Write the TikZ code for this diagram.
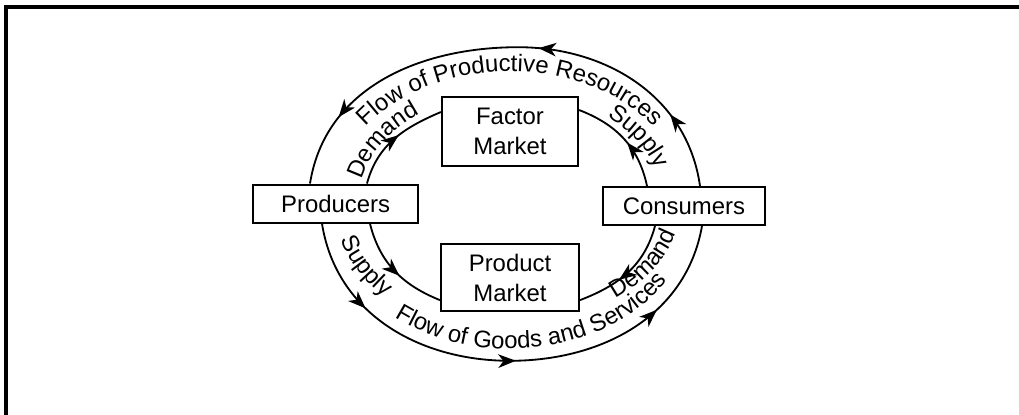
\documentclass[tikz,border=0pt]{standalone}
\usepackage{fontspec}
\setmainfont{Liberation Sans}
\usetikzlibrary{positioning,arrows.meta,decorations.markings,decorations.text}
\newcommand{\flowfont}{\fontsize{17}{21.3}\selectfont}
\tikzset{
	every node/.style = {font=\flowfont, inner sep = 3},
	box/.style = {draw, rectangle, line width=1.5pt, align=center, minimum height=0.95cm},
	flow/.style = {line width=1.3pt},
	tipat/.style = {postaction={decorate, decoration={markings,
			mark=at position #1 with {\arrow{Stealth[length=4.4mm, width=3.4mm, inset=1.3mm]}}}}},
	flowtext/.style = {decorate, decoration={text along path,
			text={|\flowfont|#1}, text align=center}}
}
% text set along an elliptic arc round the centre of the ring
\newcommand{\ringtext}[5]{\path[flowtext={#1}] (#2:#4 and #5) arc[start angle=#2, end angle=#3, x radius=#4, y radius=#5];}

\begin{document}
\begin{tikzpicture}
	\useasboundingbox (-12.75,-5.25) rectangle (12.725,5.1);
	\draw[line width=2.2pt] (-12.6,-5.3) |- (12.8,4.925);

	\node[box, minimum width=3.4cm, minimum height=1.725cm] (factor) at (0,1.81) {Factor\\Market};
	\node[box, minimum width=3.45cm, minimum height=1.675cm, below=1.9 of factor] (product) {Product\\Market};
	\node[box, minimum width=4.125cm] (producers) at (-4.36,0.01) {Producers};
	\node[box, minimum width=4.05cm] (consumers) at (4.35,-0.05) {Consumers};

	\coordinate (crest) at (0.2,3.92);
	\coordinate (trough) at (0,-3.92);

	% outer ring
	\draw[flow, tipat=0.15, tipat=0.44, tipat=0.86]
		([xshift=4mm]consumers.north) to[out=98,in=0] (crest) to[out=180,in=81] ([xshift=-6.4mm]producers.north);
	\draw[flow, tipat=0.19, tipat=0.51, tipat=0.81]
		([xshift=-3.4mm]producers.south) to[out=-81,in=180] (trough) to[out=0,in=-100] ([xshift=4.5mm]consumers.south);

	% inner ring
	\draw[flow, tipat=0.55]
		([xshift=7.85mm]producers.north) to[out=75,in=203] ([yshift=4.9mm]factor.west);
	\draw[flow, tipat=0.45]
		([xshift=-9.25mm]consumers.north) to[out=102,in=-21] ([yshift=5.4mm]factor.east);
	\draw[flow, tipat=0.56]
		([xshift=8.6mm]producers.south) to[out=-76,in=158] ([yshift=-5.6mm]product.west);
	\draw[flow, tipat=0.6]
		([xshift=-7.25mm]consumers.south) to[out=-105,in=21] ([yshift=-5.6mm]product.east);

	% labels between the rings
	\ringtext{Flow of Productive Resources}{180}{0}{4.42cm}{3.32cm}
	\ringtext{Demand}{178}{118}{3.8cm}{2.78cm}
	\ringtext{Supply}{63}{3}{3.85cm}{2.82cm}
	\ringtext{Flow of Goods and Services}{200}{362}{4.62cm}{3.62cm}
	\ringtext{Supply}{184}{234}{4.38cm}{3.33cm}
	\ringtext{Demand}{301}{355}{4.28cm}{3.0cm}
\end{tikzpicture}
\end{document}
